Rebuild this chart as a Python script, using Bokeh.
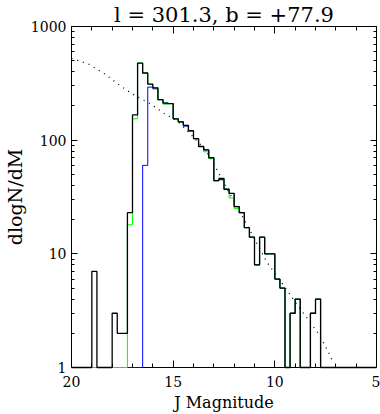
import numpy as np
from bokeh.plotting import figure
from bokeh.models import (Range1d, FixedTicker, PrintfTickFormatter, LinearAxis,
                          LogAxis, CustomJSTickFormatter)
from bokeh.embed import file_html
from bokeh.resources import INLINE

# ---------------- data ----------------
title_text = "l = 301.3, b = +77.9"
x_label = "J Magnitude"
y_label = "dlogN/dM"

x_start, x_end = 20, 5
y_start, y_end = 1, 1000

bin_start = 20.0      # first bin edge (faint end)
bin_width = 0.25      # magnitudes per bin
n_bins = 60

# counts per 0.25 mag bin, from J = 20 towards J = 5
black_counts = [0, 0, 0, 0, 7, 0, 0, 0, 3, 2,
                2, 23, 167, 477, 390, 311, 289, 227, 212, 210,
                154, 145, 135, 121, 103, 88, 82, 70, 44, 46,
                37, 34, 26, 23, 17, 14, 8, 14, 10, 10,
                6, 5, 0, 3, 4, 0, 0, 3, 4, 0,
                0, 0, 0, 0, 0, 0, 0, 0, 0, 0]
green_counts = [0, 0, 0, 0, 0, 0, 0, 0, 0, 0,
                0, 18, 154, 477, 390, 311, 289, 227, 207, 210,
                154, 145, 135, 121, 103, 88, 79, 69, 44, 46,
                37, 31, 25, 23, 17, 14, 8, 14, 10, 10,
                6, 5, 0, 3, 4, 0, 0, 3, 4, 0,
                0, 0, 0, 0, 0, 0, 0, 0, 0, 0]
blue_counts = [0, 0, 0, 0, 0, 0, 0, 0, 0, 0,
               0, 0, 0, 0, 60, 293, 283, 227, 212, 210,
               154, 145, 133, 121, 103, 88, 82, 70, 44, 45,
               37, 34, 26, 23, 17, 14, 8, 14, 10, 10,
               6, 5, 0, 3, 4, 0, 0, 3, 4, 0,
               0, 0, 0, 0, 0, 0, 0, 0, 0, 0]

# model curve (dotted)
model_mag = [20.0, 19.15, 18.35, 17.6, 16.85, 16.1, 15.35, 14.85, 14.1, 13.6,
             13.15, 12.85, 12.15, 11.6, 10.85, 10.4, 9.85, 9.35, 8.9, 8.35,
             7.85, 7.4, 7.15]
model_val = [525, 466, 381, 301, 245, 208, 167, 151, 111, 89,
             70, 55, 32, 21.5, 12, 8.5, 6.2, 4.65, 3.56, 2.63,
             1.98, 1.41, 1.13]

x_major = [20, 15, 10, 5]
x_minor = [19, 18, 17, 16, 14, 13, 12, 11, 9, 8, 7, 6]
y_major = [1, 10, 100, 1000]
y_minor = [2, 3, 4, 5, 6, 7, 8, 9, 20, 30, 40, 50, 60, 70, 80, 90,
           200, 300, 400, 500, 600, 700, 800, 900]

# ---------------- helpers ----------------
edges = bin_start - bin_width * np.arange(n_bins + 1)


def step_xy(counts):
    c = np.maximum(np.asarray(counts, dtype=float), 1.0)  # empty bins sit on the log-axis floor
    xs = np.repeat(edges, 2)[1:-1]
    ys = np.repeat(c, 2)
    return xs, ys


FONT = "DejaVu Serif"

p = figure(width=380, height=414,
           x_range=Range1d(x_start, x_end), y_range=Range1d(y_start, y_end),
           y_axis_type="log",
           x_axis_location=None, y_axis_location=None,
           output_backend="svg", toolbar_location=None,
           min_border_left=0, min_border_right=4,
           min_border_top=0, min_border_bottom=0)

p.background_fill_color = "white"
p.border_fill_color = "white"
p.outline_line_color = "black"
p.outline_line_width = 1
p.xgrid.grid_line_color = None
p.ygrid.grid_line_color = None

p.title.text = title_text
p.title.align = "center"
p.title.text_font = FONT
p.title.text_font_size = "21px"
p.title.text_font_style = "normal"
p.title.text_color = "black"
p.title.standoff = 0


def style_axis(ax, major_len, minor_len):
    ax.axis_line_color = "black"
    ax.axis_line_width = 1
    ax.major_tick_line_color = "black"
    ax.minor_tick_line_color = "black"
    ax.major_tick_in = major_len
    ax.major_tick_out = 0
    ax.minor_tick_in = minor_len
    ax.minor_tick_out = 0
    ax.major_label_text_font = FONT
    ax.major_label_text_font_size = "14px"
    ax.major_label_text_color = "black"
    ax.axis_label_text_font = FONT
    ax.axis_label_text_font_size = "16px"
    ax.axis_label_text_font_style = "normal"
    ax.axis_label_text_color = "black"


blank = CustomJSTickFormatter(code="return ''")

xb = LinearAxis(ticker=FixedTicker(ticks=x_major, minor_ticks=x_minor),
                formatter=PrintfTickFormatter(format="%d"), axis_label=x_label)
style_axis(xb, 7, 4)
xb.major_label_standoff = 8
xb.axis_label_standoff = 3
p.add_layout(xb, "below")

xt = LinearAxis(ticker=FixedTicker(ticks=x_major, minor_ticks=x_minor), formatter=blank)
style_axis(xt, 7, 4)
xt.major_label_standoff = 0
p.add_layout(xt, "above")

yl = LogAxis(ticker=FixedTicker(ticks=y_major, minor_ticks=y_minor),
             formatter=PrintfTickFormatter(format="%d"), axis_label=y_label)
style_axis(yl, 6, 3)
yl.axis_label_text_font_size = "19px"
yl.major_label_standoff = 5
yl.axis_label_standoff = 2
p.add_layout(yl, "left")

yr = LogAxis(ticker=FixedTicker(ticks=y_major, minor_ticks=y_minor), formatter=blank)
style_axis(yr, 6, 3)
yr.major_label_standoff = 0
p.add_layout(yr, "right")

# model curve
p.line(model_mag, model_val, line_color="black", line_width=1.3, line_dash="1 5")

# histograms: blue, then green, then black on top
bx, by = step_xy(blue_counts)
p.line(bx, by, line_color="#0000ff", line_width=1, level="overlay")
gx, gy = step_xy(green_counts)
p.line(gx, gy, line_color="#00ff00", line_width=1, level="overlay")
kx, ky = step_xy(black_counts)
p.line(kx, ky, line_color="black", line_width=1.3, level="overlay")

open("out.html", "w").write(file_html(p, INLINE))
